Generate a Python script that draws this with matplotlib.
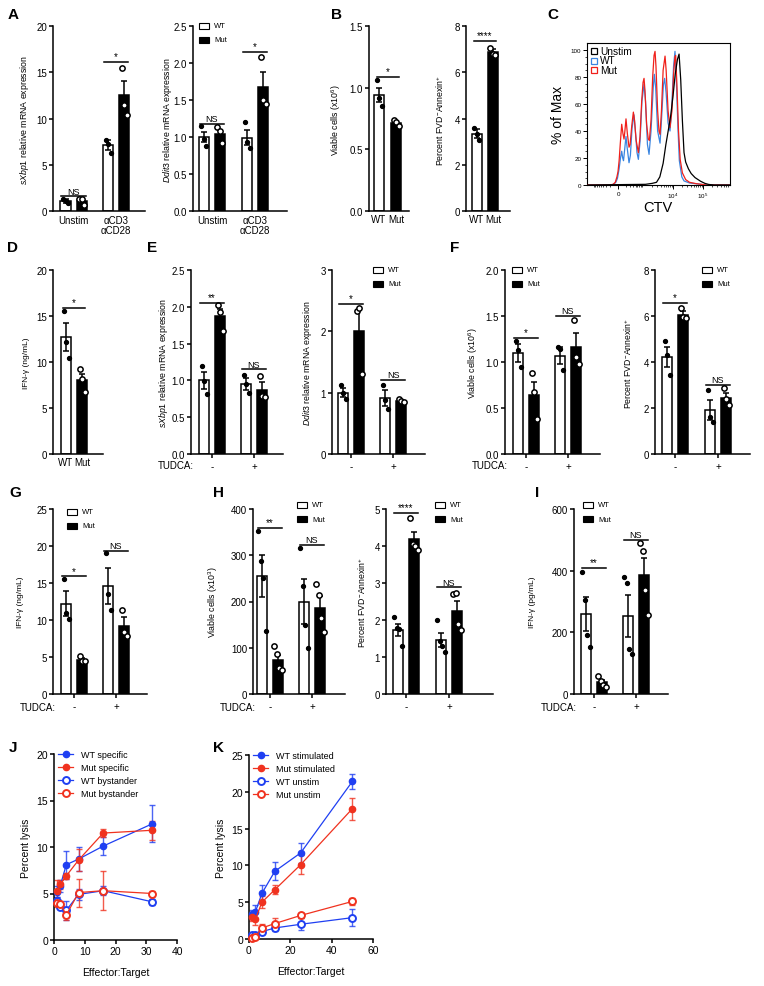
import numpy as np
import matplotlib
matplotlib.use("Agg")
import matplotlib.pyplot as plt
from matplotlib.patches import Rectangle

plt.rcParams['font.family'] = ['Liberation Sans', 'DejaVu Sans']
plt.rcParams['mathtext.fontset'] = 'custom'
plt.rcParams['mathtext.rm'] = 'Liberation Sans'
plt.rcParams['mathtext.it'] = 'Liberation Sans:italic'
plt.rcParams['mathtext.bf'] = 'Liberation Sans:bold'

# ---------------- DATA ----------------
A_groups = ['Unstim', 'αCD3\nαCD28']
A_sxbp1_wt = [1.1, 7.1]
A_sxbp1_wt_err = [0.2, 0.55]
A_sxbp1_wt_pts = [[1.3, 1.1, 0.85], [7.7, 7.2, 6.3]]
A_sxbp1_mut = [1.05, 12.5]
A_sxbp1_mut_err = [0.3, 1.6]
A_sxbp1_mut_pts = [[1.35, 1.25, 0.6], [15.5, 11.5, 10.4]]
A_sxbp1_sig = [(0, 1.6, 'NS'), (1, 16.1, '*')]

A_ddit3_wt = [1.0, 0.99]
A_ddit3_wt_err = [0.07, 0.1]
A_ddit3_wt_pts = [[1.15, 0.97, 0.88], [1.2, 0.93, 0.85]]
A_ddit3_mut = [1.04, 1.68]
A_ddit3_mut_err = [0.06, 0.2]
A_ddit3_mut_pts = [[1.13, 1.08, 0.92], [2.08, 1.5, 1.45]]
A_ddit3_sig = [(0, 1.18, 'NS'), (1, 2.15, '*')]

B_labels = ['WT', 'Mut']
B_viable = [0.94, 0.71]
B_viable_err = [0.06, 0.02]
B_viable_pts = [[1.06, 0.92, 0.85], [0.74, 0.72, 0.69]]
B_viable_sig = (1.085, '*')
B_fvd = [3.35, 6.87]
B_fvd_err = [0.18, 0.12]
B_fvd_pts = [[3.6, 3.35, 3.05], [7.05, 6.8, 6.75]]
B_fvd_sig = (7.37, '****')

C_xticks = [0, 1.0, 1.545]
C_xticklabels = ['0', '10$^4$', '10$^5$']
C_unstim_t = [-0.56, 0.5, 0.62, 0.70, 0.76, 0.82, 0.87, 0.92, 0.96, 1.00, 1.04, 1.08, 1.11,
              1.14, 1.17, 1.20, 1.23, 1.28, 1.33, 1.40, 1.50, 1.58, 1.65, 1.75, 2.04]
C_unstim_y = [0, 0.5, 1.2, 2, 6, 16, 30, 42, 52, 66, 82, 93, 97,
              78, 48, 24, 17, 12, 8.5, 5.5, 2.8, 1.2, 0.4, 0, 0]
C_wt_t = [-0.56, -0.15, -0.08, -0.04, -0.01, 0.02, 0.045, 0.067, 0.085, 0.10, 0.12, 0.145, 0.165,
          0.20, 0.225, 0.255, 0.29, 0.315, 0.345, 0.37, 0.40, 0.435, 0.473, 0.50, 0.535, 0.564,
          0.60, 0.64, 0.66, 0.685, 0.72, 0.764, 0.79, 0.825, 0.848, 0.875, 0.91, 0.945, 0.975,
          1.01, 1.036, 1.06, 1.09, 1.115, 1.16, 1.20, 1.30, 1.45, 1.60, 2.04]
C_wt_y = [0, 0, 0.5, 2, 5, 12, 20, 25, 20, 18, 26, 36, 28,
          16.5, 22, 42, 52, 40, 24, 19, 32, 62, 74.6, 62, 30, 22.7,
          40, 72, 82, 72, 40, 31, 48, 74, 79, 68, 46, 40, 56,
          88, 99, 78, 42, 18, 6, 3, 1.5, 0.8, 0, 0]
C_mut_t = [-0.56, -0.15, -0.09, -0.05, -0.02, 0.0, 0.02, 0.04, 0.067, 0.09, 0.109, 0.125, 0.145,
           0.17, 0.20, 0.22, 0.25, 0.279, 0.30, 0.33, 0.37, 0.40, 0.43, 0.455, 0.473, 0.49, 0.52,
           0.55, 0.57, 0.60, 0.63, 0.655, 0.673, 0.69, 0.72, 0.745, 0.764, 0.79, 0.82, 0.855,
           0.875, 0.91, 0.945, 0.98, 1.01, 1.035, 1.048, 1.07, 1.10, 1.13, 1.17, 1.23, 1.30,
           1.42, 1.55, 1.60, 2.04]
C_mut_y = [0, 0, 0.5, 2, 6, 10, 18, 30, 45, 38, 34, 40, 49,
           38, 28, 30, 44, 54, 48, 33, 24, 36, 62, 76, 79, 70, 45,
           34, 33, 48, 80, 96, 99, 88, 55, 40, 37.5, 55, 85, 95.5,
           85, 55, 42.5, 55, 82, 95, 96, 75, 40, 19, 9, 4, 2,
           1, 0.3, 0, 0]

D_ifng = [12.7, 8.0]
D_ifng_err = [1.5, 0.7]
D_ifng_pts = [[15.5, 12.2, 10.4], [9.2, 8.1, 6.7]]
D_ifng_sig = (15.9, '*')

TUDCA = ['-', '+']
E_sxbp1_wt = [1.0, 0.95]
E_sxbp1_wt_err = [0.12, 0.08]
E_sxbp1_wt_pts = [[1.2, 0.99, 0.81], [1.08, 0.95, 0.83]]
E_sxbp1_mut = [1.87, 0.87]
E_sxbp1_mut_err = [0.1, 0.11]
E_sxbp1_mut_pts = [[2.02, 1.93, 1.67], [1.06, 0.79, 0.77]]
E_sxbp1_sig = [(0, 2.05, '**'), (1, 1.15, 'NS')]

E_ddit3_wt = [1.0, 0.91]
E_ddit3_wt_err = [0.07, 0.13]
E_ddit3_wt_pts = [[1.12, 1.0, 0.9], [1.13, 0.88, 0.73]]
E_ddit3_mut = [2.0, 0.86]
E_ddit3_mut_err = [0.35, 0.02]
E_ddit3_mut_pts = [[2.33, 2.38, 1.3], [0.9, 0.87, 0.85]]
E_ddit3_sig = [(0, 2.45, '*'), (1, 1.21, 'NS')]

F_viable_wt = [1.1, 1.07]
F_viable_wt_err = [0.1, 0.09]
F_viable_wt_pts = [[1.23, 1.13, 0.95], [1.16, 1.14, 0.91]]
F_viable_mut = [0.64, 1.16]
F_viable_mut_err = [0.14, 0.15]
F_viable_mut_pts = [[0.88, 0.67, 0.38], [1.46, 1.05, 0.98]]
F_viable_sig = [(0, 1.26, '*'), (1, 1.5, 'NS')]

F_fvd_wt = [4.22, 1.92]
F_fvd_wt_err = [0.43, 0.43]
F_fvd_wt_pts = [[4.9, 4.3, 3.45], [2.8, 1.6, 1.4]]
F_fvd_mut = [6.05, 2.45]
F_fvd_mut_err = [0.17, 0.2]
F_fvd_mut_pts = [[6.35, 5.95, 5.9], [2.85, 2.38, 2.15]]
F_fvd_sig = [(0, 6.58, '*'), (1, 3.02, 'NS')]

G_ifng_wt = [12.2, 14.6]
G_ifng_wt_err = [1.7, 2.4]
G_ifng_wt_pts = [[15.5, 11.0, 10.2], [19.0, 13.5, 11.3]]
G_ifng_mut = [4.6, 9.2]
G_ifng_mut_err = [0.3, 1.2]
G_ifng_mut_pts = [[5.2, 4.5, 4.4], [11.4, 8.4, 7.9]]
G_ifng_sig = [(0, 15.9, '*'), (1, 19.3, 'NS')]

H_viable_wt = [255, 200]
H_viable_wt_err = [45, 48]
H_viable_wt_pts = [[352, 287, 250, 136], [316, 234, 150, 100]]
H_viable_mut = [74, 187]
H_viable_mut_err = [11, 25]
H_viable_mut_pts = [[103, 86, 57, 52], [237, 213, 165, 135]]
H_viable_sig = [(0, 359, '**'), (1, 322, 'NS')]

H_fvd_wt = [1.73, 1.46]
H_fvd_wt_err = [0.17, 0.19]
H_fvd_wt_pts = [[2.08, 1.78, 1.76, 1.3], [1.99, 1.42, 1.3, 1.14]]
H_fvd_mut = [4.18, 2.25]
H_fvd_mut_err = [0.2, 0.27]
H_fvd_mut_pts = [[4.76, 4.05, 4.0, 3.9], [2.7, 2.72, 1.88, 1.72]]
H_fvd_sig = [(0, 4.9, '****'), (1, 2.88, 'NS')]

I_ifng_wt = [260, 253]
I_ifng_wt_err = [55, 67]
I_ifng_wt_pts = [[397, 306, 190, 154], [380, 360, 145, 130]]
I_ifng_mut = [38, 385]
I_ifng_mut_err = [7, 55]
I_ifng_mut_pts = [[60, 42, 30, 22], [490, 465, 337, 255]]
I_ifng_sig = [(0, 408, '**'), (1, 500, 'NS')]

J_x = [1, 2, 4, 8, 16, 32]
J_wt_spec = [5.2, 5.8, 8.1, 8.7, 10.1, 12.5]
J_wt_spec_err = [0.6, 0.6, 1.5, 1.3, 1.0, 2.0]
J_mut_spec = [5.3, 6.0, 6.9, 8.6, 11.5, 11.8]
J_mut_spec_err = [1.1, 0.5, 0.3, 1.2, 0.4, 1.0]
J_wt_bys = [4.2, 3.6, 3.2, 4.9, 5.3, 4.1]
J_wt_bys_err = [0.4, 0.3, 1.0, 0.6, 0.5, 0.3]
J_mut_bys = [4.0, 3.9, 2.7, 5.1, 5.3, 5.0]
J_mut_bys_err = [0.4, 0.3, 0.5, 1.5, 2.1, 0.3]

K_x = [1.5625, 3.125, 6.25, 12.5, 25, 50]
K_wt_stim = [3.4, 3.7, 6.2, 9.2, 11.7, 21.4]
K_wt_stim_err = [0.5, 0.9, 1.1, 1.2, 1.4, 1.0]
K_mut_stim = [3.0, 2.7, 5.0, 6.7, 10.1, 17.7]
K_mut_stim_err = [0.6, 0.8, 0.8, 0.6, 1.3, 1.5]
K_wt_un = [0.5, 0.5, 1.0, 1.5, 2.0, 2.9]
K_wt_un_err = [0.1, 0.2, 0.3, 0.4, 0.8, 1.2]
K_mut_un = [0.2, 0.3, 1.5, 2.1, 3.2, 5.1]
K_mut_un_err = [0.1, 0.1, 0.5, 0.7, 0.3, 0.5]

# ---------------- FIGURE ----------------
W, H = 764, 987
fig = plt.figure(figsize=(W / 100, H / 100), dpi=100)
LW = 1.1
BLUE = '#1f3ff2'
RED = '#f0321f'


def px_axes(L, T, R, B):
    return fig.add_axes([L / W, 1 - B / H, (R - L) / W, (B - T) / H])


def style(ax, size=7):
    for s in ['top', 'right']:
        ax.spines[s].set_visible(False)
    for s in ['left', 'bottom']:
        ax.spines[s].set_linewidth(LW)
    ax.tick_params(width=LW, length=3, labelsize=size, pad=1.2)


def ylab(x, y, text, size=6.3):
    fig.text(x / W, 1 - y / H, text, rotation=90, ha='center', va='center', fontsize=size)


def letter(x, y, s):
    fig.text(x / W, 1 - y / H, s, fontsize=11, fontweight='bold', ha='center', va='center')


def bar_legend(x, y):
    for i, (fc, lab) in enumerate([('white', 'WT'), ('black', 'Mut')]):
        yy = y + i * 14
        fig.patches.append(Rectangle((x / W, 1 - (yy + 3) / H), 10 / W, 6 / H,
                                     transform=fig.transFigure, facecolor=fc,
                                     edgecolor='black', lw=0.8))
        fig.text((x + 15) / W, 1 - yy / H, lab, fontsize=5.5, va='center', ha='left')


def draw_bars(ax, xs, vals, errs, pts, mut, u):
    fc = 'black' if mut else 'white'
    ax.bar(xs, vals, width=10 / u, color=fc, edgecolor='black', linewidth=LW, zorder=2)
    ax.errorbar(xs, vals, yerr=errs, fmt='none', ecolor='black', elinewidth=LW,
                capsize=2.5, capthick=LW, zorder=3)
    for xi, p in zip(xs, pts):
        n = len(p)
        jit = (np.arange(n) - (n - 1) / 2) * 2.5 / u
        if mut:
            ax.plot(xi + jit, p, 'o', ms=3.8, mfc='white', mec='black', mew=1.1,
                    zorder=4, clip_on=False)
        else:
            ax.plot(xi + jit, p, 'o', ms=2.8, color='black', zorder=4, clip_on=False)


def sig_mark(ax, xc, y, text, half):
    ax.plot([xc - half, xc + half], [y, y], color='black', lw=LW, zorder=5, clip_on=False)
    ax.annotate(text, (xc, y), xytext=(0, 0.5), textcoords='offset points', ha='center',
                va='bottom', fontsize=7 if text != 'NS' else 6.5, annotation_clip=False)


def group_panel(box, centers, wt, wt_err, wt_pts, mut, mut_err, mut_pts, ylim, yticks,
                yticklabels, xlabels, sig, ticks_on=True):
    L, T, R, B = box
    c0, c1 = centers
    u = c1 - c0
    ax = px_axes(L, T, R, B)
    style(ax)
    ax.set_xlim((L - c0) / u, (R - c0) / u)
    ax.set_ylim(*ylim)
    x = np.arange(len(wt))
    off = 8 / u
    draw_bars(ax, x - off, wt, wt_err, wt_pts, False, u)
    draw_bars(ax, x + off, mut, mut_err, mut_pts, True, u)
    for gi, y, t in sig:
        sig_mark(ax, gi, y, t, 12 / u)
    ax.set_yticks(yticks)
    ax.set_yticklabels(yticklabels)
    ax.set_xticks(x)
    ax.set_xticklabels(xlabels, fontsize=7, linespacing=1.0)
    if not ticks_on:
        ax.tick_params(axis='x', length=0, pad=3)
    else:
        ax.tick_params(axis='x', pad=2)
    return ax


def pair_panel(box, centers, vals, errs, pts, ylim, yticks, yticklabels, sig):
    L, T, R, B = box
    c0, c1 = centers
    u = c1 - c0
    ax = px_axes(L, T, R, B)
    style(ax)
    ax.set_xlim((L - c0) / u, (R - c0) / u)
    ax.set_ylim(*ylim)
    draw_bars(ax, [0], vals[:1], errs[:1], pts[:1], False, u)
    draw_bars(ax, [1], vals[1:], errs[1:], pts[1:], True, u)
    sig_mark(ax, 0.5, sig[0], sig[1], 11 / u)
    ax.set_yticks(yticks)
    ax.set_yticklabels(yticklabels)
    ax.set_xticks([0, 1])
    ax.set_xticklabels(B_labels, fontsize=7)
    ax.tick_params(axis='x', length=0, pad=2)
    return ax


def tudca(x, y):
    fig.text(x / W, 1 - y / H, 'TUDCA:', fontsize=7, ha='right', va='center')


def f1(v):
    return ['%.1f' % t for t in v]


def f0(v):
    return ['%d' % t for t in v]


# ---------- Row 1 ----------
letter(13, 15, 'A')
group_panel((53, 27, 145, 212), (73.5, 116), A_sxbp1_wt, A_sxbp1_wt_err, A_sxbp1_wt_pts,
            A_sxbp1_mut, A_sxbp1_mut_err, A_sxbp1_mut_pts, (0, 20), [0, 5, 10, 15, 20],
            f0([0, 5, 10, 15, 20]), A_groups, A_sxbp1_sig, ticks_on=False)
ylab(25, 120, r'$\it{sXbp1}$ relative mRNA expression')
group_panel((193, 27, 287, 212), (212, 255), A_ddit3_wt, A_ddit3_wt_err, A_ddit3_wt_pts,
            A_ddit3_mut, A_ddit3_mut_err, A_ddit3_mut_pts, (0, 2.5),
            [0, 0.5, 1.0, 1.5, 2.0, 2.5], f1([0, 0.5, 1.0, 1.5, 2.0, 2.5]), A_groups,
            A_ddit3_sig, ticks_on=False)
ylab(168, 120, r'$\it{Ddit3}$ relative mRNA expression')
bar_legend(199, 27)

letter(337, 15, 'B')
pair_panel((369, 27, 409, 212), (379, 396), B_viable, B_viable_err, B_viable_pts, (0, 1.5),
           [0, 0.5, 1.0, 1.5], f1([0, 0.5, 1.0, 1.5]), B_viable_sig)
ylab(336, 120, r'Viable cells (x10$^6$)')
pair_panel((466, 27, 510, 212), (477, 493), B_fvd, B_fvd_err, B_fvd_pts, (0, 8),
           [0, 2, 4, 6, 8], f0([0, 2, 4, 6, 8]), B_fvd_sig)
ylab(440, 120, r'Percent FVD$^{-}$Annexin$^{+}$')

# C histogram
letter(553, 15, 'C')
axc = fig.add_axes([587 / W, 1 - 186 / H, (730 - 587) / W, (186 - 44) / H])
axc.plot(C_wt_t, C_wt_y, color='#3a85e0', lw=0.9, zorder=2)
axc.plot(C_mut_t, C_mut_y, color='#f0201a', lw=0.9, zorder=3)
axc.plot(C_unstim_t, C_unstim_y, color='black', lw=0.9, zorder=4)
axc.set_xlim(-0.564, 2.036)
axc.set_ylim(0, 105.2)
for s in axc.spines.values():
    s.set_linewidth(0.8)
axc.set_yticks([0, 20, 40, 60, 80, 100])
axc.set_yticks(np.arange(0, 105, 5), minor=True)
axc.set_xticks(C_xticks)
axc.set_xticklabels(C_xticklabels)
minor_x = ([-0.455 * np.log10(k) for k in range(2, 10)] +
           [0.455 * np.log10(k) for k in range(2, 10)] +
           [0.455 + 0.545 * np.log10(k) for k in range(2, 10)] +
           [1.0 + 0.545 * np.log10(k) for k in range(2, 10)] +
           [1.545 + 0.545 * np.log10(k) for k in range(2, 10)])
axc.set_xticks([m for m in minor_x if -0.56 < m < 2.03], minor=True)
axc.tick_params(axis='both', which='major', labelsize=4.5, length=3, width=0.7, pad=1)
axc.tick_params(axis='both', which='minor', length=1.5, width=0.5)
ylab(558, 115, '% of Max', size=10)
fig.text(658 / W, 1 - 208 / H, 'CTV', fontsize=10.5, ha='center', va='center')
for i, (lab, col) in enumerate([('Unstim', 'black'), ('WT', '#3a85e0'), ('Mut', '#f0201a')]):
    yy = 52 + i * 9.5
    fig.patches.append(Rectangle((591 / W, 1 - (yy + 3) / H), 6 / W, 6 / H,
                                 transform=fig.transFigure, facecolor='white',
                                 edgecolor=col, lw=0.9))
    fig.text(600 / W, 1 - yy / H, lab, fontsize=7.3, va='center', ha='left')

# ---------- Row 2 ----------
letter(13, 248, 'D')
pair_panel((53, 271, 103, 455), (66, 82), D_ifng, D_ifng_err, D_ifng_pts, (0, 20),
           [0, 5, 10, 15, 20], f0([0, 5, 10, 15, 20]), D_ifng_sig)
ylab(27, 363, 'IFN-γ (ng/mL)', size=6)

letter(152, 248, 'E')
group_panel((191, 271, 283, 455), (212, 254), E_sxbp1_wt, E_sxbp1_wt_err, E_sxbp1_wt_pts,
            E_sxbp1_mut, E_sxbp1_mut_err, E_sxbp1_mut_pts, (0, 2.5),
            [0, 0.5, 1.0, 1.5, 2.0, 2.5], f1([0, 0.5, 1.0, 1.5, 2.0, 2.5]), TUDCA,
            E_sxbp1_sig)
ylab(164, 363, r'$\it{sXbp1}$ relative mRNA expression')
tudca(194, 466)
group_panel((332, 271, 425, 455), (351, 393), E_ddit3_wt, E_ddit3_wt_err, E_ddit3_wt_pts,
            E_ddit3_mut, E_ddit3_mut_err, E_ddit3_mut_pts, (0, 3), [0, 1, 2, 3],
            f0([0, 1, 2, 3]), TUDCA, E_ddit3_sig)
ylab(307, 363, r'$\it{Ddit3}$ relative mRNA expression')
bar_legend(373, 271)

letter(455, 248, 'F')
group_panel((505, 271, 600, 455), (526, 568), F_viable_wt, F_viable_wt_err, F_viable_wt_pts,
            F_viable_mut, F_viable_mut_err, F_viable_mut_pts, (0, 2.0),
            [0, 0.5, 1.0, 1.5, 2.0], f1([0, 0.5, 1.0, 1.5, 2.0]), TUDCA, F_viable_sig)
ylab(473, 363, r'Viable cells (x10$^6$)')
tudca(508, 466)
bar_legend(512, 271)
group_panel((655, 271, 750, 455), (675, 718), F_fvd_wt, F_fvd_wt_err, F_fvd_wt_pts,
            F_fvd_mut, F_fvd_mut_err, F_fvd_mut_pts, (0, 8), [0, 2, 4, 6, 8],
            f0([0, 2, 4, 6, 8]), TUDCA, F_fvd_sig)
ylab(628, 363, r'Percent FVD$^{-}$Annexin$^{+}$')
bar_legend(702, 271)

# ---------- Row 3 ----------
letter(15, 493, 'G')
group_panel((53, 510, 147, 695), (74, 116), G_ifng_wt, G_ifng_wt_err, G_ifng_wt_pts,
            G_ifng_mut, G_ifng_mut_err, G_ifng_mut_pts, (0, 25), [0, 5, 10, 15, 20, 25],
            f0([0, 5, 10, 15, 20, 25]), TUDCA, G_ifng_sig)
ylab(20, 602, 'IFN-γ (ng/mL)', size=6)
tudca(56, 708)
bar_legend(67, 513)

letter(218, 493, 'H')
group_panel((253, 510, 345, 695), (270, 312), H_viable_wt, H_viable_wt_err, H_viable_wt_pts,
            H_viable_mut, H_viable_mut_err, H_viable_mut_pts, (0, 400),
            [0, 100, 200, 300, 400], f0([0, 100, 200, 300, 400]), TUDCA, H_viable_sig)
ylab(213, 602, r'Viable cells (x10$^3$)')
tudca(256, 708)
bar_legend(297, 506)
group_panel((386, 510, 493, 695), (406, 449), H_fvd_wt, H_fvd_wt_err, H_fvd_wt_pts,
            H_fvd_mut, H_fvd_mut_err, H_fvd_mut_pts, (0, 5), [0, 1, 2, 3, 4, 5],
            f0([0, 1, 2, 3, 4, 5]), TUDCA, H_fvd_sig)
ylab(362, 602, r'Percent FVD$^{-}$Annexin$^{+}$')
bar_legend(435, 506)

letter(537, 493, 'I')
group_panel((574, 510, 668, 695), (594, 636), I_ifng_wt, I_ifng_wt_err, I_ifng_wt_pts,
            I_ifng_mut, I_ifng_mut_err, I_ifng_mut_pts, (0, 600), [0, 200, 400, 600],
            f0([0, 200, 400, 600]), TUDCA, I_ifng_sig)
ylab(533, 602, 'IFN-γ (pg/mL)', size=6)
tudca(577, 708)
bar_legend(583, 506)


# ---------- Row 4: lysis ----------
def lysis_panel(box, xlim, xticks, ylim, yticks, x, series, leg_xy):
    L, T, R, B = box
    ax = px_axes(L, T, R, B)
    style(ax, size=7.5)
    ax.set_xlim(*xlim)
    ax.set_ylim(*ylim)
    ax.set_xticks(xticks)
    ax.set_yticks(yticks)
    for lab, y, e, col, filled in series:
        ax.errorbar(x, y, yerr=e, fmt='none', ecolor=col, elinewidth=1.0, capsize=2.5,
                    capthick=1.0, alpha=0.8, zorder=2)
        if filled:
            ax.plot(x, y, '-o', color=col, lw=0.9, ms=4.5, label=lab, zorder=3, clip_on=False)
        else:
            ax.plot(x, y, '-o', color=col, lw=0.9, ms=5, mfc='white', mec=col, mew=1.4,
                    label=lab, zorder=3, clip_on=False)
    ax.legend(loc='upper left', bbox_to_anchor=(leg_xy[0] / W, 1 - leg_xy[1] / H),
              bbox_transform=fig.transFigure, frameon=False, borderaxespad=0, borderpad=0,
              handlelength=1.7, handletextpad=0.9, labelspacing=0.45, fontsize=6.5)
    ax.set_xlabel('Effector:Target', fontsize=7.5, labelpad=8)
    return ax


letter(13, 748, 'J')
lysis_panel((54, 755, 177, 941), (0, 40), [0, 10, 20, 30, 40], (0, 20), [0, 5, 10, 15, 20],
            J_x, [('WT specific', J_wt_spec, J_wt_spec_err, BLUE, True),
                  ('Mut specific', J_mut_spec, J_mut_spec_err, RED, True),
                  ('WT bystander', J_wt_bys, J_wt_bys_err, BLUE, False),
                  ('Mut bystander', J_mut_bys, J_mut_bys_err, RED, False)], (58, 751))
ylab(26, 848, 'Percent lysis', size=7.5)

letter(218, 748, 'K')
lysis_panel((249, 756, 373, 940), (0, 60), [0, 20, 40, 60], (0, 25), [0, 5, 10, 15, 20, 25],
            K_x, [('WT stimulated', K_wt_stim, K_wt_stim_err, BLUE, True),
                  ('Mut stimulated', K_mut_stim, K_mut_stim_err, RED, True),
                  ('WT unstim', K_wt_un, K_wt_un_err, BLUE, False),
                  ('Mut unstim', K_mut_un, K_mut_un_err, RED, False)], (253, 752))
ylab(221, 848, 'Percent lysis', size=7.5)

fig.savefig('out.png', dpi=100)
